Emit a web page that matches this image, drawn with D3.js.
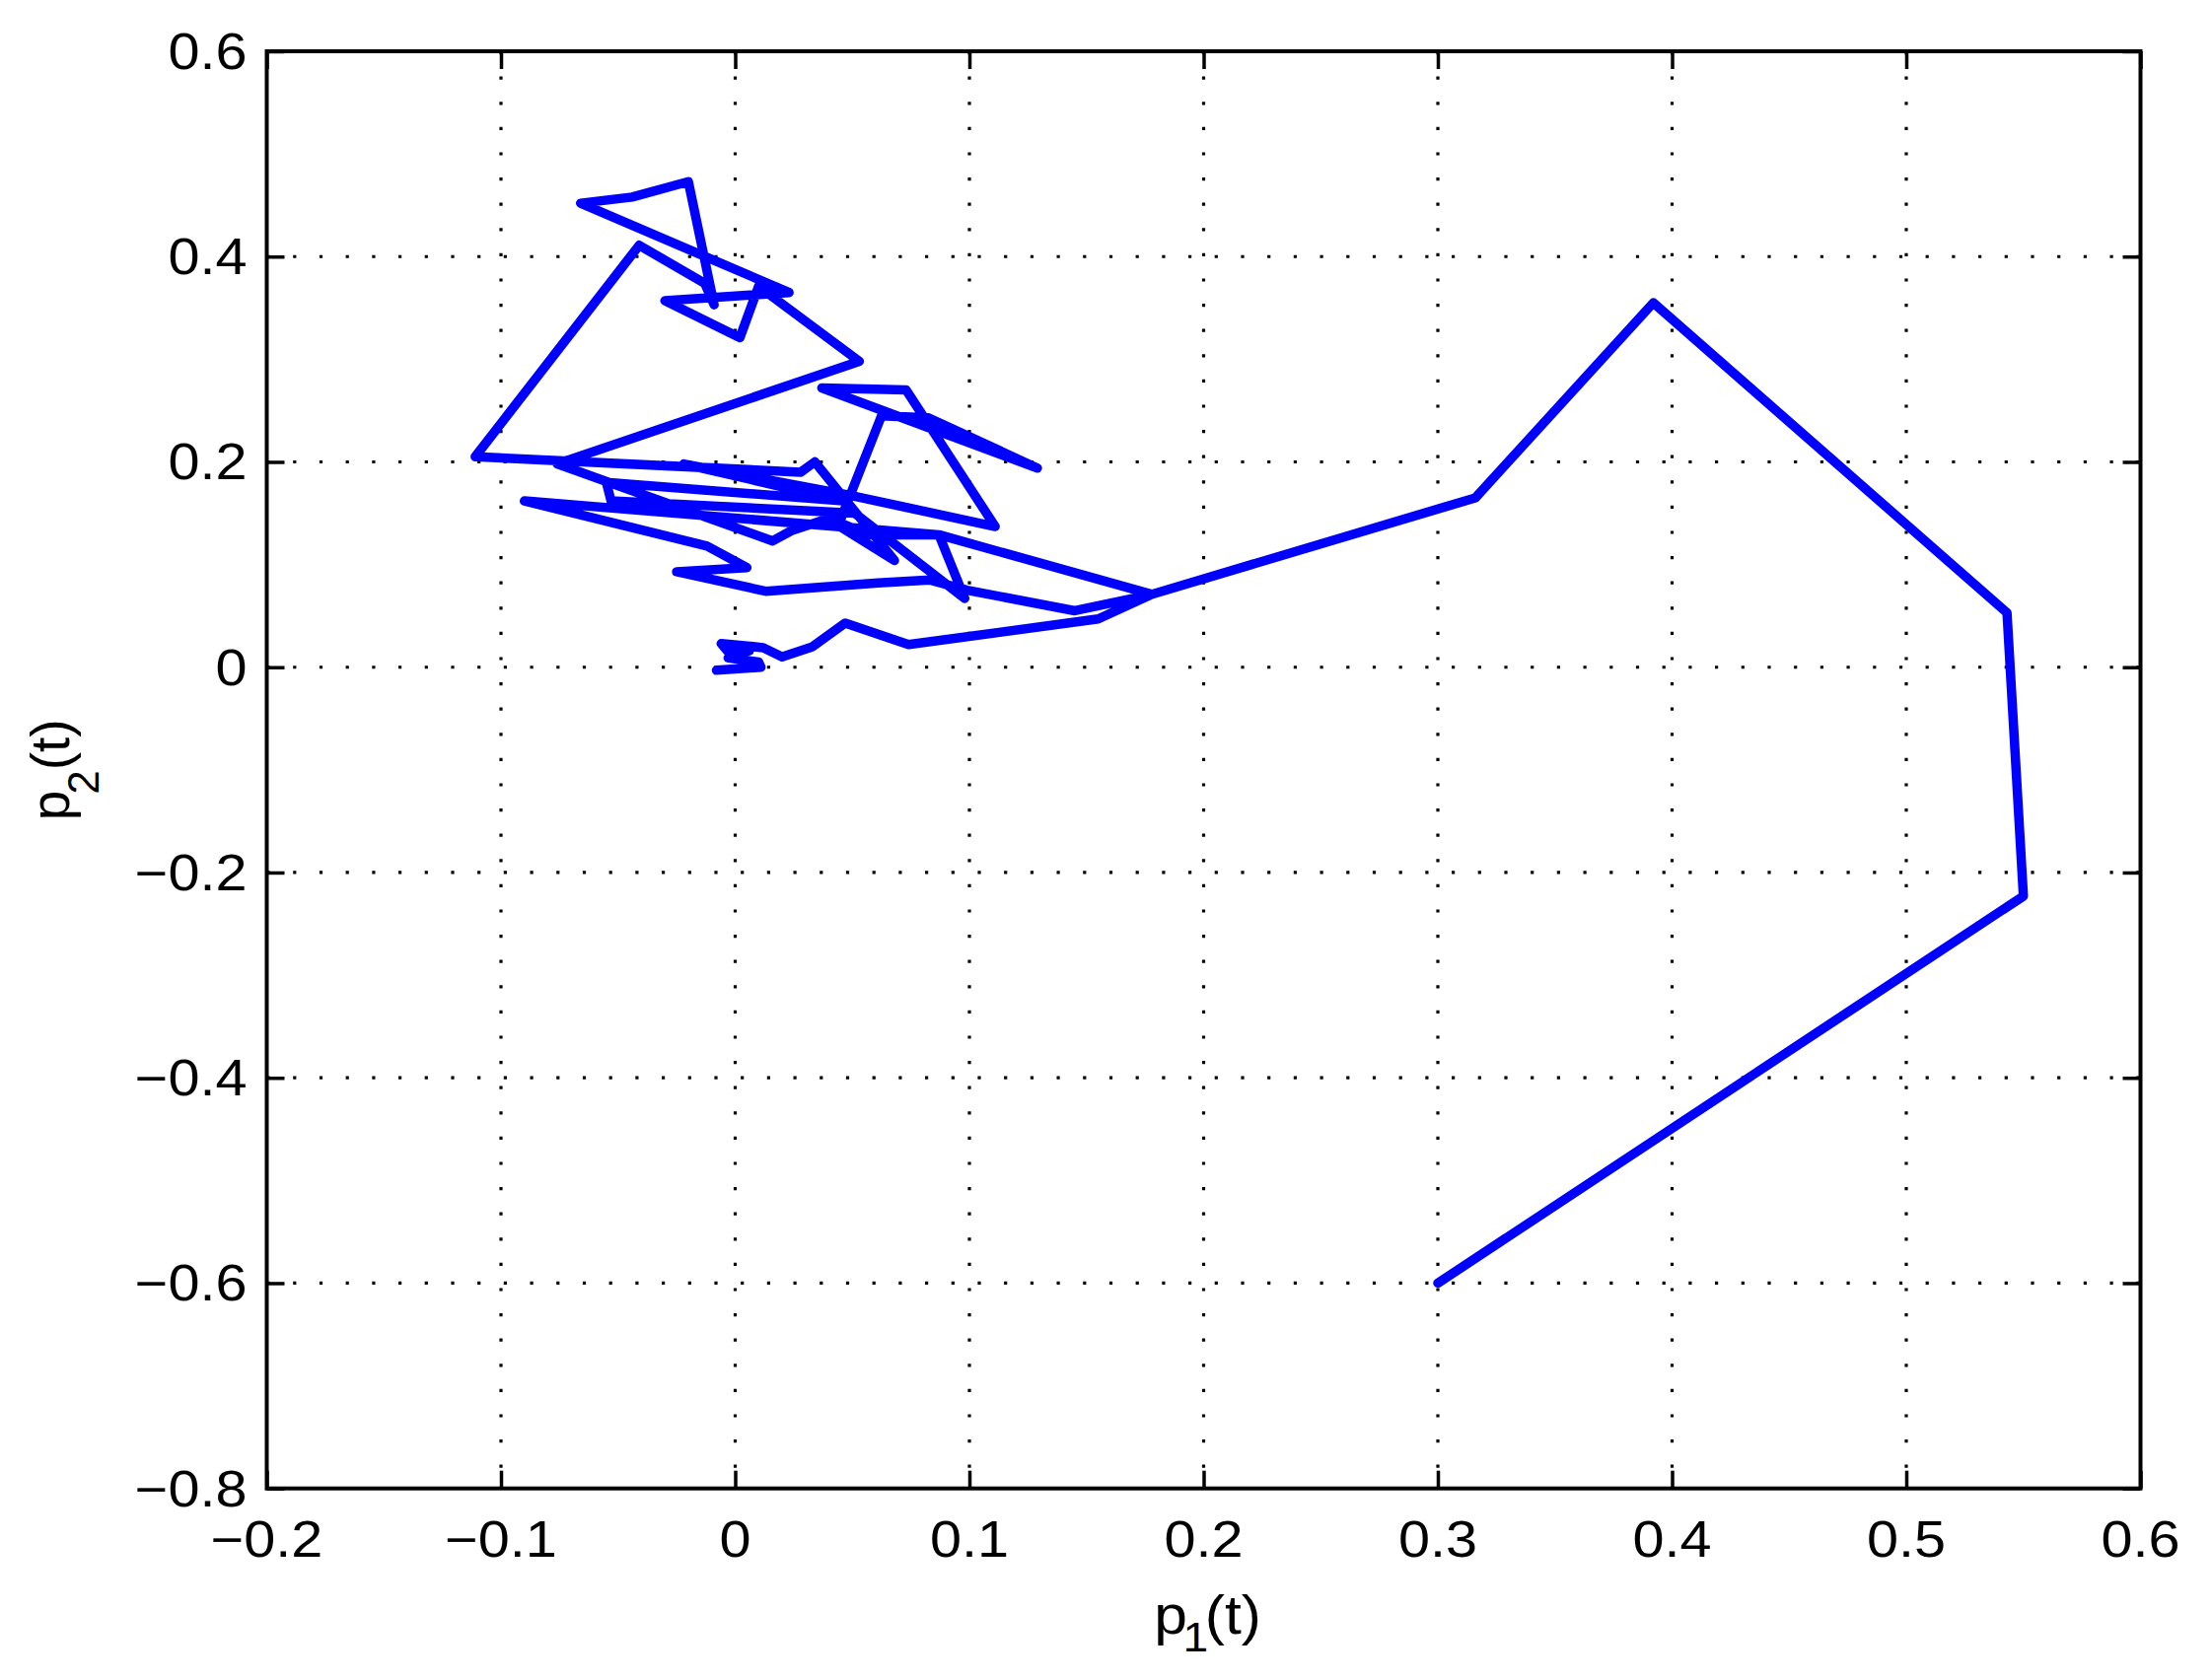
<!DOCTYPE html>
<html>
<head>
<meta charset="utf-8">
<script src="https://cdn.jsdelivr.net/npm/d3@7"></script>
<style>
  html, body { margin: 0; padding: 0; background: #fff; }
  svg { display: block; }
  text { font-family: "Liberation Sans", Arial, Helvetica, sans-serif; fill: #000; }
</style>
</head>
<body>
<svg id="chart" width="2243" height="1704"></svg>
<script>
// ---- data ----
const xTicks = [-0.2, -0.1, 0, 0.1, 0.2, 0.3, 0.4, 0.5, 0.6];
const xTickLabels = ["\u22120.2", "\u22120.1", "0", "0.1", "0.2", "0.3", "0.4", "0.5", "0.6"];
const yTicks = [-0.8, -0.6, -0.4, -0.2, 0, 0.2, 0.4, 0.6];
const yTickLabels = ["\u22120.8", "\u22120.6", "\u22120.4", "\u22120.2", "0", "0.2", "0.4", "0.6"];

const p1 = [0.300, 0.550, 0.543, 0.392, 0.316, 0.178, 0.087, 0.057, 0.040, 0.024,
            0.016, -0.076, 0.053, 0.010, 0.002, -0.030, 0.023, -0.066, -0.044, -0.020,
            -0.009, -0.013, -0.041, -0.111, 0.028, 0.034, 0.068, 0.044, 0.0625, 0.0825,
            0.129, 0.037, 0.073, 0.111, 0.048, -0.022, 0.046, -0.055, -0.053, 0.051,
            0.098, 0.087, -0.090, -0.012, 0.005, -0.025, 0.013, 0.061, 0.083, 0.099,
            0.145, 0.178, 0.155, 0.074, 0.047, 0.033, 0.020, 0.012, 0.004, -0.006,
            -0.003, 0.006, -0.003, 0.010, 0.011, -0.008];
const p2 = [-0.600, -0.223, 0.053, 0.355, 0.165, 0.071, 0.129, 0.129, 0.145, 0.133,
            0.123, 0.198, 0.298, 0.371, 0.321, 0.357, 0.365, 0.452, 0.458, 0.473,
            0.353, 0.374, 0.411, 0.205, 0.190, 0.200, 0.104, 0.138, 0.245, 0.243,
            0.194, 0.272, 0.270, 0.137, 0.168, 0.198, 0.162, 0.180, 0.162, 0.150,
            0.067, 0.129, 0.162, 0.118, 0.097, 0.093, 0.074, 0.082, 0.085, 0.075,
            0.055, 0.071, 0.047, 0.022, 0.043, 0.020, 0.010, 0.019, 0.021, 0.023,
            0.015, 0.016, 0.009, 0.005, 0.000, -0.003];

// ---- layout ----
const L = 270.5, R = 2170.5, T = 52, B = 1509.7;
const svg = d3.select("#chart");
const x = d3.scaleLinear().domain([-0.2, 0.6]).range([L, R]);
const y = d3.scaleLinear().domain([-0.8, 0.6]).range([B, T]);

// grid (dotted)
const grid = svg.append("g");
xTicks.slice(1, -1).forEach(v => {
  grid.append("line")
    .attr("x1", x(v)).attr("x2", x(v)).attr("y1", T).attr("y2", B)
    .attr("stroke", "#000").attr("stroke-width", 3.2)
    .attr("stroke-dasharray", "3.2 22.4");
});
yTicks.slice(1, -1).forEach(v => {
  grid.append("line")
    .attr("x1", L).attr("x2", R).attr("y1", y(v)).attr("y2", y(v))
    .attr("stroke", "#000").attr("stroke-width", 3.2)
    .attr("stroke-dasharray", "3.2 23.5");
});

// data line
const pts = p1.map((v, i) => [v, p2[i]]);
svg.append("path")
  .datum(pts)
  .attr("d", d3.line().x(d => x(d[0])).y(d => y(d[1])))
  .attr("fill", "none")
  .attr("stroke", "#0000ff")
  .attr("stroke-width", 9.5)
  .attr("stroke-linejoin", "round")
  .attr("stroke-linecap", "round");

// axes box + inward ticks on all sides
const tl = 18;
const axB = svg.append("g").attr("transform", `translate(0,${B})`)
  .call(d3.axisBottom(x).tickValues(xTicks).tickSize(-tl).tickFormat(""));
const axT = svg.append("g").attr("transform", `translate(0,${T})`)
  .call(d3.axisTop(x).tickValues(xTicks).tickSize(-tl).tickFormat(""));
const axL = svg.append("g").attr("transform", `translate(${L},0)`)
  .call(d3.axisLeft(y).tickValues(yTicks).tickSize(-tl).tickFormat(""));
const axR = svg.append("g").attr("transform", `translate(${R},0)`)
  .call(d3.axisRight(y).tickValues(yTicks).tickSize(-tl).tickFormat(""));
[axB, axT, axL, axR].forEach(a => {
  a.select(".domain").remove();
  a.selectAll(".tick line").attr("stroke", "#000").attr("stroke-width", 3.5);
});
svg.append("rect")
  .attr("x", L).attr("y", T).attr("width", R - L).attr("height", B - T)
  .attr("fill", "none").attr("stroke", "#000").attr("stroke-width", 4);

// tick labels
const fs = 51, sx = 1.13;
xTicks.forEach((v, i) => {
  svg.append("text")
    .attr("transform", `translate(${x(v)},${B + 69}) scale(${sx},1)`)
    .attr("text-anchor", "middle")
    .attr("font-size", fs)
    .text(xTickLabels[i]);
});
yTicks.forEach((v, i) => {
  svg.append("text")
    .attr("transform", `translate(${L - 20},${y(v) + 18}) scale(${sx},1)`)
    .attr("text-anchor", "end")
    .attr("font-size", fs)
    .text(yTickLabels[i]);
});

// axis labels
const xl = svg.append("text")
  .attr("transform", `translate(${(L + R) / 2 + 4},1657) scale(1.1,1)`)
  .attr("text-anchor", "middle")
  .attr("font-size", 55);
xl.append("tspan").text("p");
xl.append("tspan").attr("font-size", 42).attr("dx", -4).attr("dy", 18).text("1");
xl.append("tspan").attr("dx", -3).attr("dy", -18).text("(t)");

const yl = svg.append("text")
  .attr("transform", `translate(70,${(T + B) / 2}) rotate(-90)`)
  .attr("text-anchor", "middle")
  .attr("font-size", 55);
yl.append("tspan").text("p");
yl.append("tspan").attr("font-size", 44).attr("dx", -4).attr("dy", 30).text("2");
yl.append("tspan").attr("dy", -30).text("(t)");
</script>
</body>
</html>
